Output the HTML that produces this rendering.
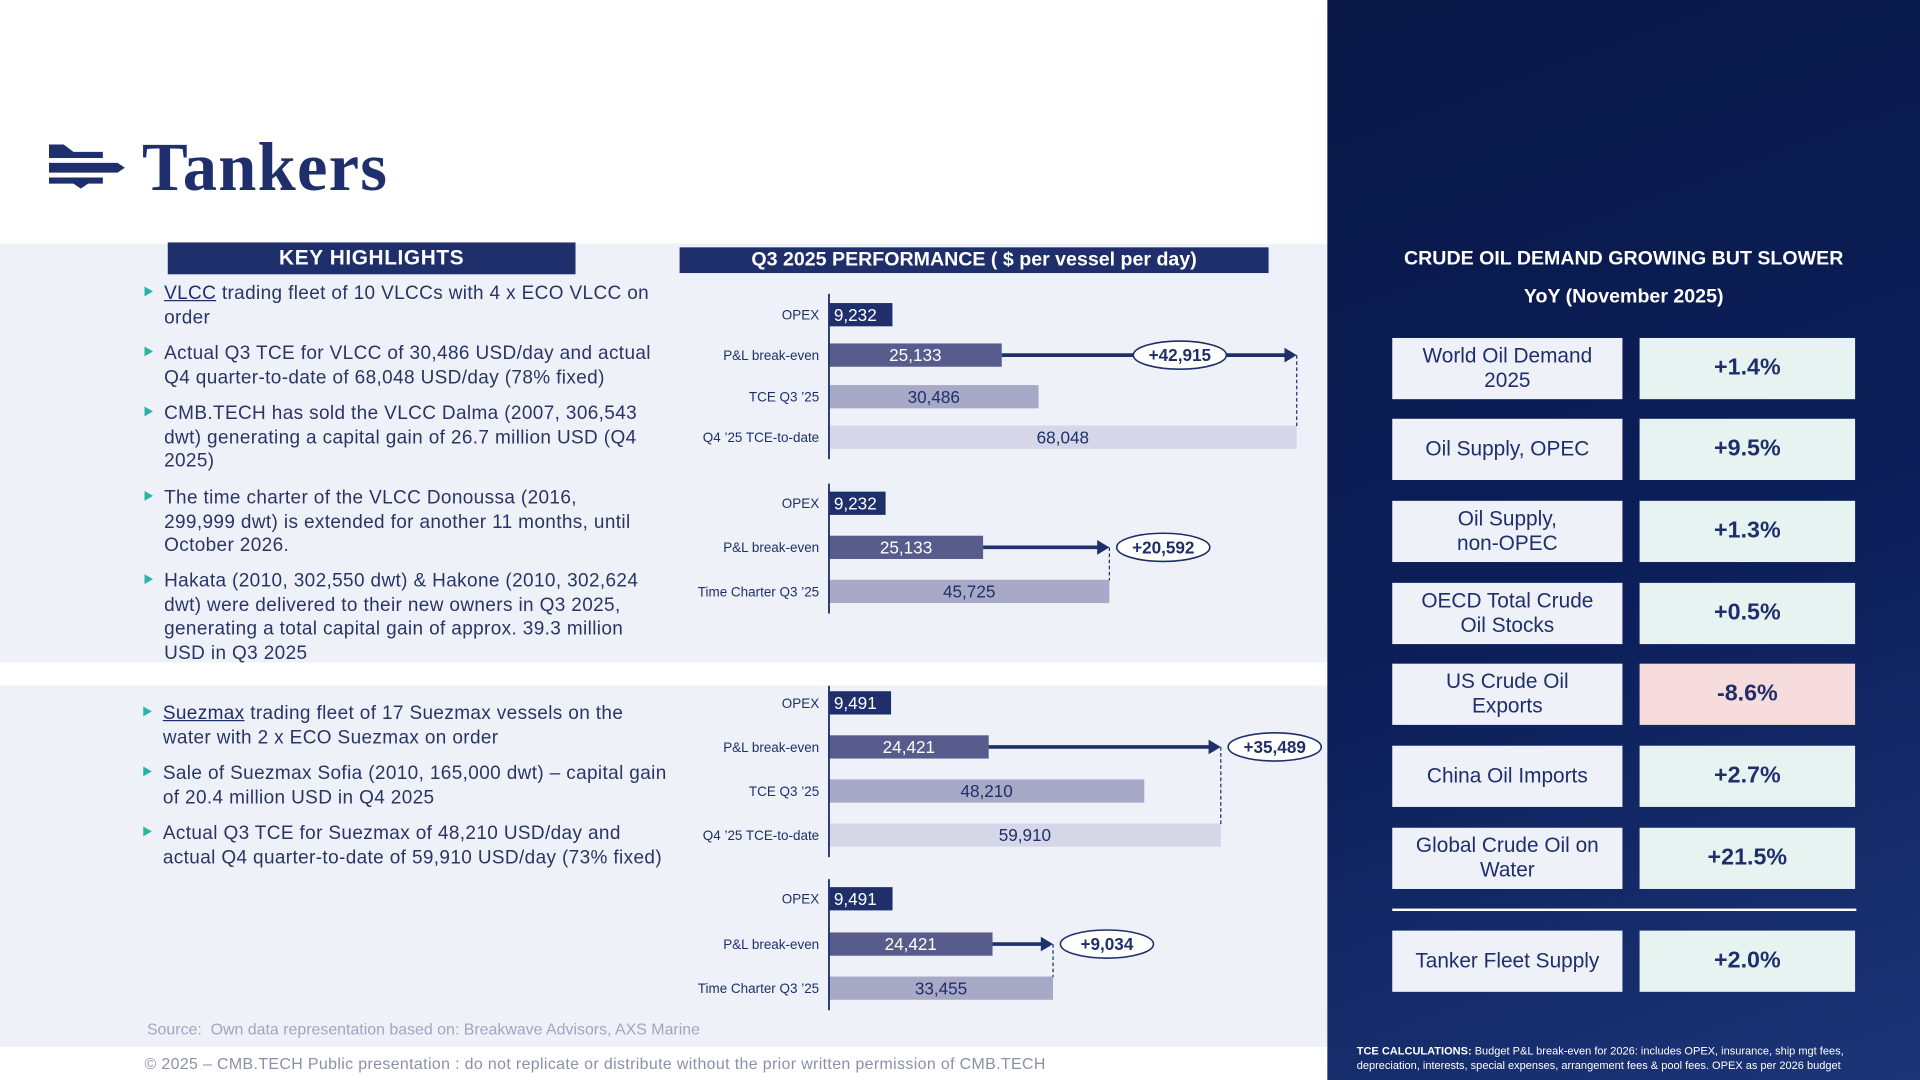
<!DOCTYPE html>
<html><head><meta charset="utf-8"><style>
html,body{margin:0;padding:0;width:1920px;height:1080px;overflow:hidden;background:#fff}
#stage{position:absolute;left:0;top:0;width:1568px;height:882px;transform:scale(1.22449);transform-origin:0 0;font-family:"Liberation Sans",sans-serif;color:#1f2f6b}
.abs{position:absolute}
.bul{position:absolute;left:134px;width:400px;font-size:15.5px;line-height:19.5px;color:#2a3566;letter-spacing:0.3px}
.bul:before{content:"";position:absolute;left:-16px;top:4px;border-left:7px solid #2bb3a3;border-top:4.5px solid transparent;border-bottom:4.5px solid transparent}
.lb{position:absolute;left:1137px;width:188px;height:50px;background:#eef1f8;color:#1f2f6b;font-size:17px;display:flex;align-items:center;justify-content:center;text-align:center;line-height:20px}
.rb{position:absolute;left:1339px;width:176px;height:50px;background:#e7f3f0;color:#1f2f6b;font-size:19px;font-weight:bold;display:flex;align-items:center;justify-content:center}
</style></head><body>
<div id="stage">
<div class="abs" style="left:0;top:199px;width:1084px;height:342px;background:#eef2f8"></div>
<div class="abs" style="left:0;top:560px;width:1084px;height:295px;background:#eef2f8"></div>
<div class="abs" style="left:1084px;top:0;width:484px;height:882px;background:linear-gradient(160deg,#081746 0%,#0c1f5a 55%,#1c3577 100%)"></div>

<svg class="abs" style="left:40px;top:116px" width="64" height="40">
<polygon points="0,2 12,2 20,8 44,8 44,13 0,13" fill="#1f2f6b"/>
<polygon points="0,17 56,17 62,21 56,25 0,25" fill="#1f2f6b"/>
<polygon points="0,29 44,29 44,34 32,34 26,38 20,34 0,34" fill="#1f2f6b"/>
</svg>
<div class="abs" style="left:116px;top:105px;font-family:'Liberation Serif',serif;font-weight:bold;font-size:56px;letter-spacing:1px;color:#1f2f6b">Tankers</div>

<div class="abs" style="left:137px;top:198px;width:333px;height:26px;background:#1f2f6b;color:#fff;font-weight:bold;font-size:17px;text-align:center;line-height:26px;letter-spacing:0.5px">KEY HIGHLIGHTS</div>
<div class="abs" style="left:555px;top:202px;width:481px;height:21px;background:#1f2f6b;color:#fff;font-weight:bold;font-size:16px;text-align:center;line-height:21px">Q3 2025 PERFORMANCE ( $ per vessel per day)</div>

<div class="bul" style="top:230px"><u style="color:#1f2f6b">VLCC</u> trading fleet of 10 VLCCs with 4 x ECO VLCC on order</div>
<div class="bul" style="top:279px">Actual Q3 TCE for VLCC of 30,486 USD/day and actual Q4 quarter-to-date of 68,048 USD/day (78% fixed)</div>
<div class="bul" style="top:328px">CMB.TECH has sold the VLCC Dalma (2007, 306,543 dwt) generating a capital gain of 26.7 million USD (Q4 2025)</div>
<div class="bul" style="top:397px;width:392px">The time charter of the VLCC Donoussa (2016, 299,999 dwt) is extended for another 11 months, until October 2026.</div>
<div class="bul" style="top:465px">Hakata (2010, 302,550 dwt) &amp; Hakone (2010, 302,624 dwt) were delivered to their new owners in Q3 2025, generating a total capital gain of approx. 39.3 million USD in Q3 2025</div>
<div class="bul" style="top:573px;left:133px;width:415px"><u style="color:#1f2f6b">Suezmax</u> trading fleet of 17 Suezmax vessels on the water with 2 x ECO Suezmax on order</div>
<div class="bul" style="top:622px;left:133px;width:415px">Sale of Suezmax Sofia (2010, 165,000 dwt) – capital gain of 20.4 million USD in Q4 2025</div>
<div class="bul" style="top:671px;left:133px;width:415px">Actual Q3 TCE for Suezmax of 48,210 USD/day and actual Q4 quarter-to-date of 59,910 USD/day (73% fixed)</div>

<div class="abs" style="left:120px;top:833px;font-size:13px;color:#a0a6bd">Source:&nbsp; Own data representation based on: Breakwave Advisors, AXS Marine</div>
<div class="abs" style="left:118px;top:861px;font-size:13px;color:#8a90a8;letter-spacing:0.3px">© 2025 – CMB.TECH Public presentation : do not replicate or distribute without the prior written permission of CMB.TECH</div>

<svg id="chart" class="abs" style="left:0;top:0" width="1084" height="882"></svg>

<div class="abs" style="left:1084px;top:196px;width:484px;text-align:center;color:#fff;font-weight:bold;font-size:16px;line-height:31px">CRUDE OIL DEMAND GROWING BUT SLOWER<br>YoY (November 2025)</div>
<div id="kpis"></div>
<div class="abs" style="left:1137px;top:742px;width:379px;height:2px;background:#fff"></div>
<div class="abs" style="left:1108px;top:852px;width:450px;font-size:9px;line-height:12px;color:#fff"><b>TCE CALCULATIONS:</b> Budget P&amp;L break-even for 2026: includes OPEX, insurance, ship mgt fees, depreciation, interests, special expenses, arrangement fees &amp; pool fees. OPEX as per 2026 budget</div>
</div>
<script>
// KPI data
const kpiLabels=["World Oil Demand<br>2025","Oil Supply, OPEC","Oil Supply,<br>non-OPEC","OECD Total Crude<br>Oil Stocks","US Crude Oil<br>Exports","China Oil Imports","Global Crude Oil on<br>Water","Tanker Fleet Supply"];
const kpiValues=["+1.4%","+9.5%","+1.3%","+0.5%","-8.6%","+2.7%","+21.5%","+2.0%"];
const kpiTops=[276,342,409,476,542,609,676,760];
const kc=document.getElementById('kpis');
kpiLabels.forEach((l,i)=>{
  const a=document.createElement('div');a.className='lb';a.style.top=kpiTops[i]+'px';a.innerHTML=l;
  
  
  const b=document.createElement('div');b.className='rb';b.style.top=kpiTops[i]+'px';b.textContent=kpiValues[i];
  if(kpiValues[i][0]==='-')b.style.background='#f6dcdc';
  
  
  kc.appendChild(a);kc.appendChild(b);
});

// Chart data
const p1Labels=["OPEX","P&L break-even","TCE Q3 ’25","Q4 ’25 TCE-to-date"];
const p1Values=[9232,25133,30486,68048];
const p2Labels=["OPEX","P&L break-even","Time Charter Q3 ’25"];
const p2Values=[9232,25133,45725];
const p3Labels=["OPEX","P&L break-even","TCE Q3 ’25","Q4 ’25 TCE-to-date"];
const p3Values=[9491,24421,48210,59910];
const p4Labels=["OPEX","P&L break-even","Time Charter Q3 ’25"];
const p4Values=[9491,24421,33455];
const deltas=["+42,915","+20,592","+35,489","+9,034"];

const NS='http://www.w3.org/2000/svg';
const svg=document.getElementById('chart');
function el(t,at,txt){const e=document.createElementNS(NS,t);for(const k in at)e.setAttribute(k,at[k]);if(txt!=null)e.textContent=txt;svg.appendChild(e);return e;}
const colors=["#1f2f6b","#575c8c","#a8a9c6","#d5d6e8"];
const tcolors=["#fff","#fff","#1f2f6b","#1f2f6b"];
const panels=[
 {labels:p1Labels,values:p1Values,top:240,rows:[257,290,324,357],scale:382/68048,lbl:'mid'},
 {labels:p2Labels,values:p2Values,top:395,rows:[411,447,483],scale:229/45725,lbl:'right'},
 {labels:p3Labels,values:p3Values,top:560,rows:[574,610,646,682],scale:320/59910,lbl:'right'},
 {labels:p4Labels,values:p4Values,top:718,rows:[734,771,807],scale:183/33455,lbl:'right'}
];
const X0=677;
panels.forEach((p,pi)=>{
  const n=p.values.length;
  const bottom=p.rows[n-1]+18;
  const x=v=>X0+v*p.scale;
  p.values.forEach((v,i)=>{
    const ci=(n===3&&i===2)?2:i;
    const y=p.rows[i];
    const r=el('rect',{x:X0,y:y-9.5,width:x(v)-X0,height:19,fill:colors[ci]});
    
    
    const tx=i===0?X0+4:(X0+x(v))/2;
    el('text',{x:tx,y:y+5,'font-size':14,fill:tcolors[ci],'text-anchor':i===0?'start':'middle'},v.toLocaleString('en-US'));
    const lt=el('text',{x:X0-8,y:y+4,'font-size':11,fill:'#1f2f6b','text-anchor':'end'},p.labels[i]);
    
    
  });
  const ax=el('line',{x1:X0,y1:p.top,x2:X0,y2:bottom,stroke:'#1f2f6b','stroke-width':1.5});
  
  
  const ya=p.rows[1];const xs=x(p.values[1]);const xe=x(p.values[n-1]);
  el('line',{x1:xs,y1:ya,x2:xe-9,y2:ya,stroke:'#1f2f6b','stroke-width':3});
  el('polygon',{points:`${xe-10},${ya-6} ${xe},${ya} ${xe-10},${ya+6}`,fill:'#1f2f6b'});
  el('line',{x1:xe,y1:ya,x2:xe,y2:p.rows[n-1]-9,stroke:'#1f2f6b','stroke-width':1,'stroke-dasharray':'3,2'});
  const cx=p.lbl==='mid'?(xs+xe)/2+25:xe+44;
  const e=el('ellipse',{cx:cx,cy:ya,rx:38,ry:11.5,fill:'#fff',stroke:'#1f2f6b','stroke-width':1.3});
  
  
  el('text',{x:cx,y:ya+5,'font-size':14,'font-weight':'bold',fill:'#1f2f6b','text-anchor':'middle'},deltas[pi]);
});
</script>
</body></html>
